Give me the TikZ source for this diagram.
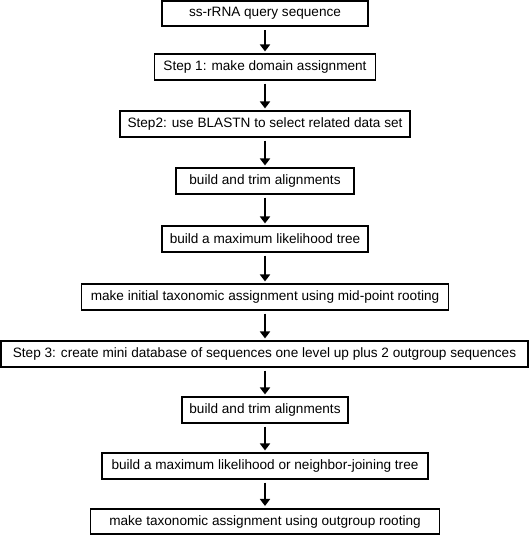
\documentclass[tikz,border=0pt]{standalone}
\usepackage{fontspec}
\setmainfont{Liberation Sans}
\usetikzlibrary{arrows.meta}
\tikzset{
  stepbox/.style={draw,line width=1.6pt,minimum height=25.5pt,inner sep=0pt,font=\fontsize{13.6}{16}\selectfont},
  flow/.style={line width=2.4pt,-{Triangle[width=10pt,length=7pt]},shorten <=3pt,shorten >=2pt}
}
\begin{document}
\begin{tikzpicture}[x=1pt,y=-1pt]
\useasboundingbox (0,0) rectangle (530,536);
\node[stepbox,minimum width=206pt] (query) at (265,13.5) {ss-rRNA query sequence};
\node[stepbox,minimum width=221pt] (domain) at (265,67) {Step 1: make domain assignment};
\node[stepbox,minimum width=290pt] (blast) at (265,124) {Step2: use BLASTN to select related data set};
\node[stepbox,minimum width=178pt] (align) at (265,181) {build and trim alignments};
\node[stepbox,minimum width=206pt] (mltree) at (265,239) {build a maximum likelihood tree};
\node[stepbox,minimum width=367pt] (midpoint) at (265,297) {make initial taxonomic assignment using mid-point rooting};
\node[stepbox,minimum width=527pt] (minidb) at (264.5,354) {Step 3: create mini database of sequences one level up plus 2 outgroup sequences};
\node[stepbox,minimum width=166pt] (realign) at (265,410) {build and trim alignments};
\node[stepbox,minimum width=326pt] (njtree) at (265,466) {build a maximum likelihood or neighbor-joining tree};
\node[stepbox,minimum width=349pt] (outgroup) at (265,521.5) {make taxonomic assignment using outgroup rooting};
% arrows between steps
\draw[flow] (query) -- (domain);
\draw[flow] (domain) -- (blast);
\draw[flow] (blast) -- (align);
\draw[flow] (align) -- (mltree);
\draw[flow] (mltree) -- (midpoint);
\draw[flow] (midpoint) -- (minidb.north -| midpoint.south);
\draw[flow] (minidb.south -| realign.north) -- (realign);
\draw[flow] (realign) -- (njtree);
\draw[flow] (njtree) -- (outgroup);
\end{tikzpicture}
\end{document}
